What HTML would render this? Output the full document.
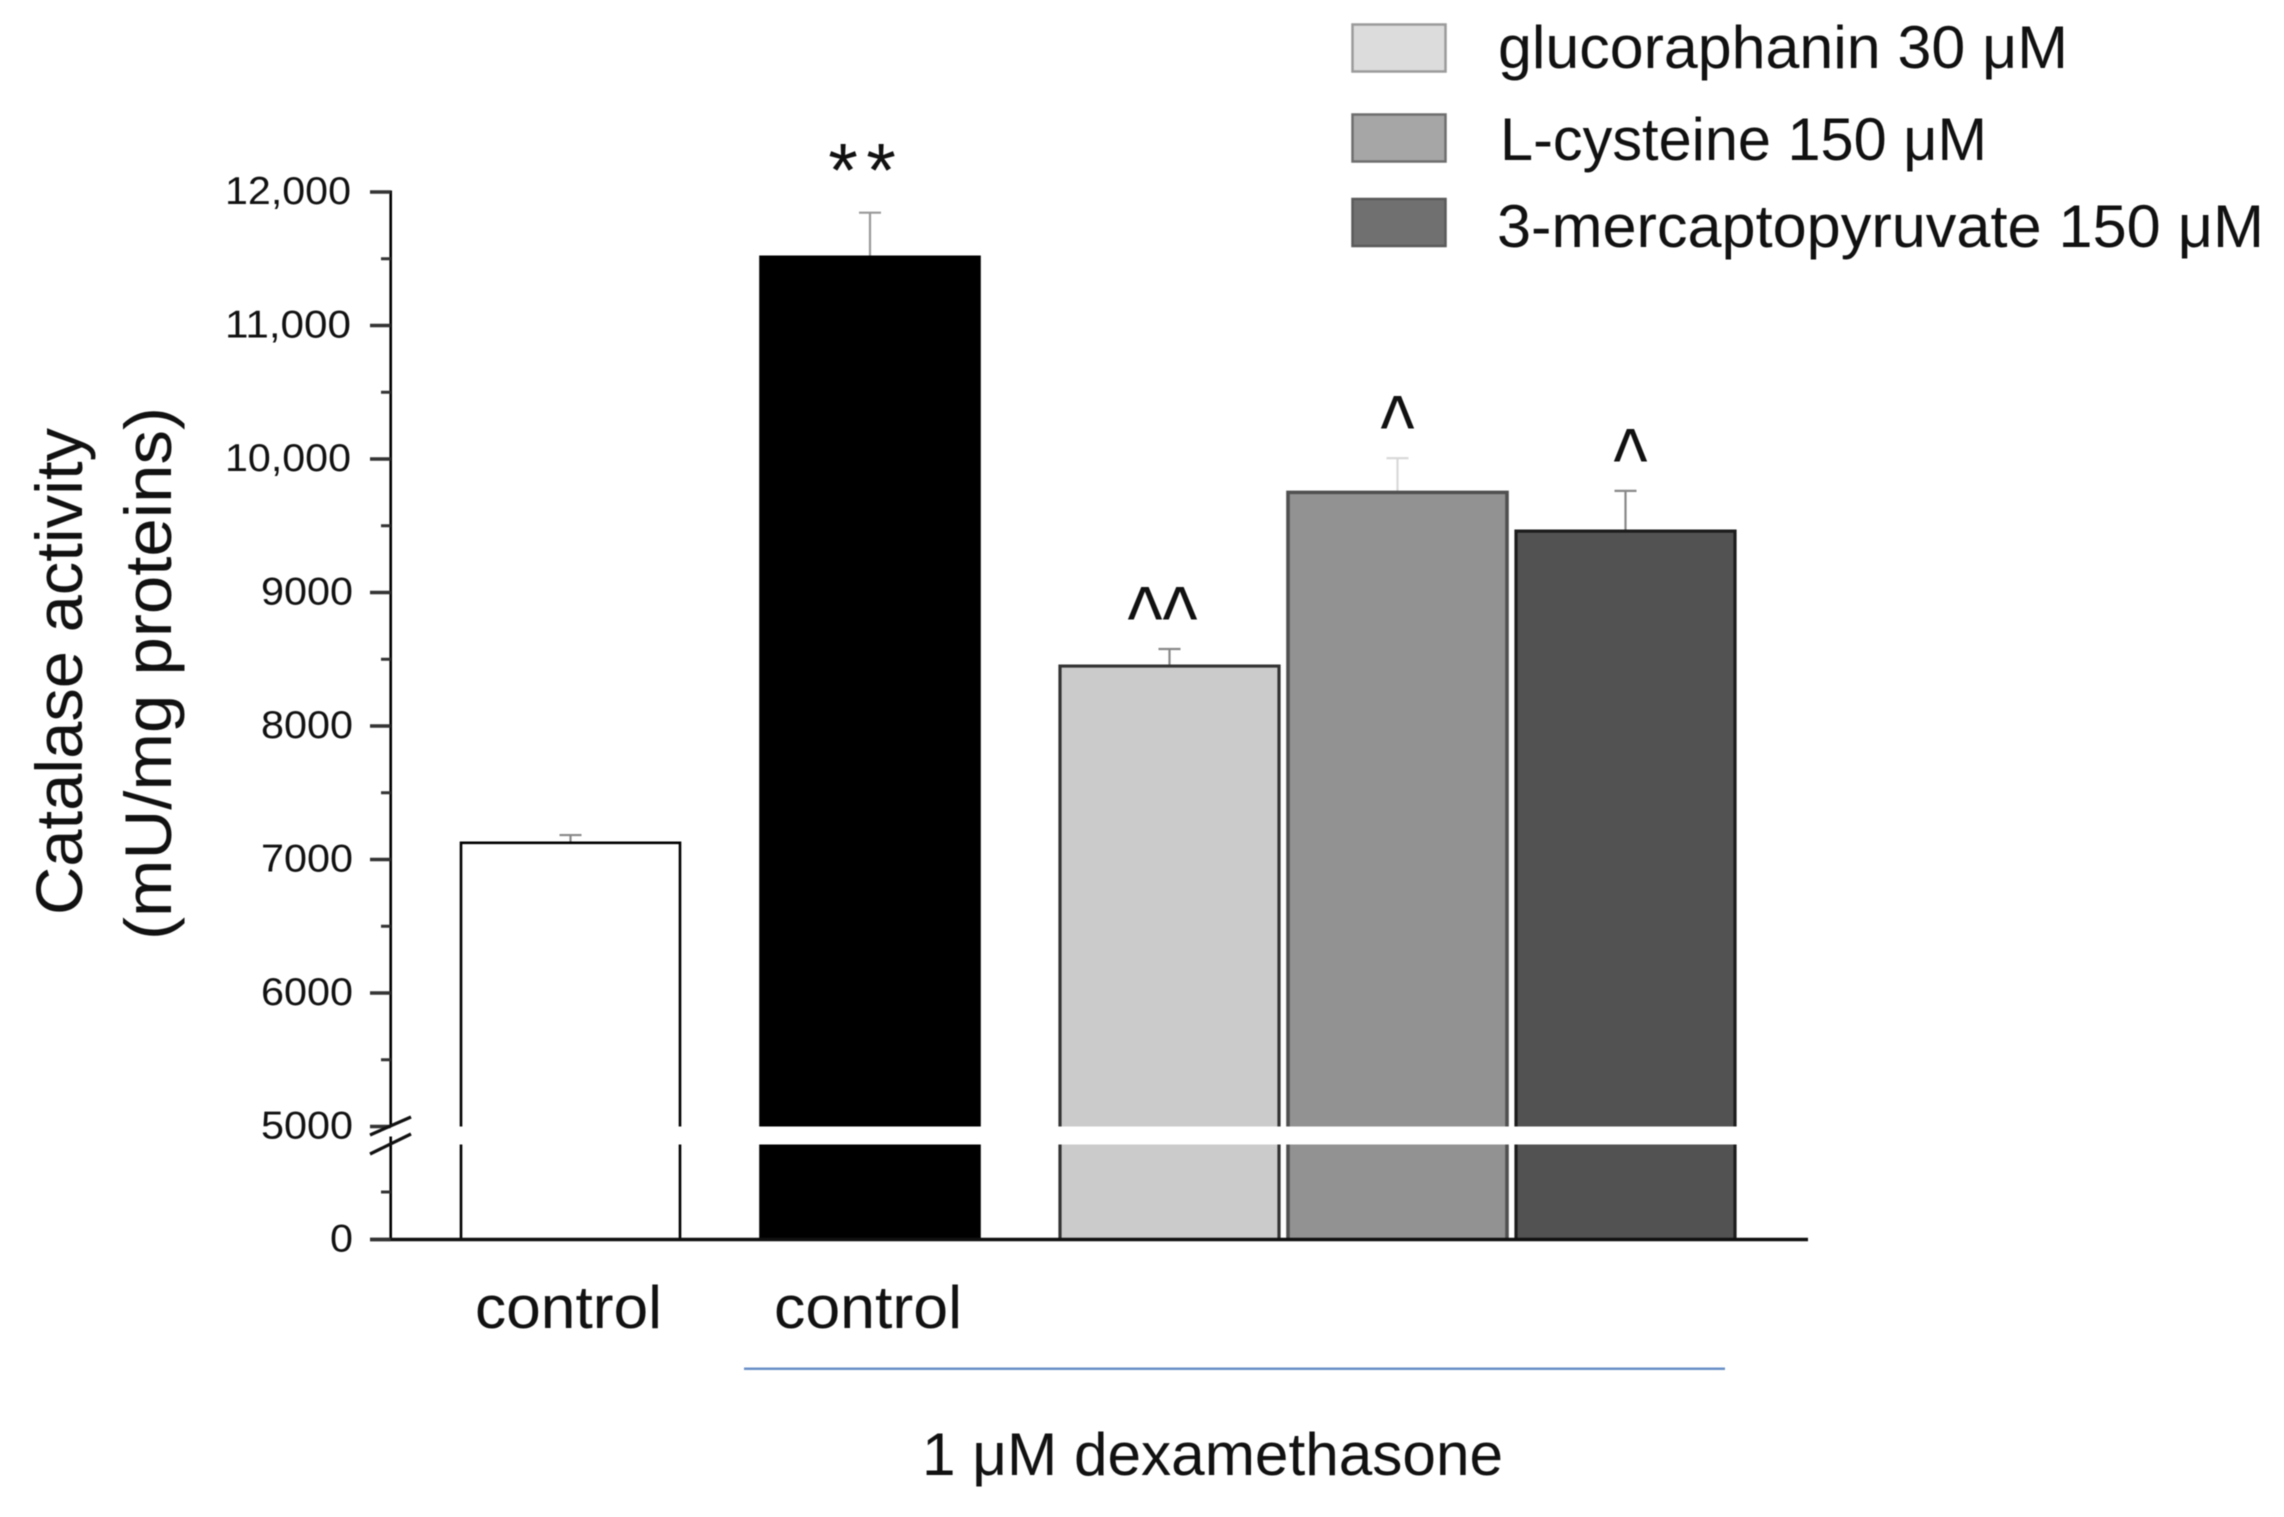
<!DOCTYPE html>
<html lang="en">
<head>
<meta charset="utf-8">
<title>Catalase activity</title>
<style>
html,body{margin:0;padding:0;background:#fff;width:2284px;height:1517px;overflow:hidden}
svg{display:block;filter:blur(.6px)}
text{font-family:"Liberation Sans",sans-serif;fill:#111}
</style>
</head>
<body>
<svg id="chart" xmlns="http://www.w3.org/2000/svg" width="2284" height="1517" viewBox="0 0 2284 1517">
  <g id="bars"></g>
  <g id="axis"></g>
  <g id="sig"></g>

  <text transform="translate(82,915) rotate(-90)" font-size="66" textLength="487" lengthAdjust="spacingAndGlyphs">Catalase activity</text>
  <text transform="translate(171,940) rotate(-90)" font-size="66" textLength="533" lengthAdjust="spacingAndGlyphs">(mU/mg proteins)</text>

  <text x="475" y="1328" font-size="60" textLength="187" lengthAdjust="spacingAndGlyphs">control</text>
  <text x="774" y="1328" font-size="60" textLength="188" lengthAdjust="spacingAndGlyphs">control</text>
  <line x1="744" y1="1368.7" x2="1725" y2="1368.7" stroke="#6a90c8" stroke-width="2.5"/>
  <text x="922" y="1475" font-size="60" textLength="581" lengthAdjust="spacingAndGlyphs">1 μM dexamethasone</text>

  <g>
    <g>
      <rect x="1352.5" y="24.5" width="93" height="47" fill="#dcdcdc" stroke="#9a9a9a" stroke-width="2.5"/>
      <text x="1498" y="68" font-size="60" textLength="570" lengthAdjust="spacingAndGlyphs">glucoraphanin 30 μM</text>
    </g>
    <g>
      <rect x="1352.5" y="114.5" width="93" height="47" fill="#a6a6a6" stroke="#6e6e6e" stroke-width="2.5"/>
      <text x="1500" y="160" font-size="60" textLength="487" lengthAdjust="spacingAndGlyphs">L-cysteine 150 μM</text>
    </g>
    <g>
      <rect x="1352.5" y="199" width="93" height="47" fill="#707070" stroke="#5a5a5a" stroke-width="2.5"/>
      <text x="1497" y="247" font-size="60" textLength="767" lengthAdjust="spacingAndGlyphs">3-mercaptopyruvate 150 μM</text>
    </g>
  </g>
</svg>

<script>
const categories = ["control", "dexamethasone control", "glucoraphanin 30 uM", "L-cysteine 150 uM", "3-mercaptopyruvate 150 uM"];
const meanValues = [7125, 11515, 8449, 9750, 9460];
const errorValues = [58, 330, 128, 256, 301];
const significanceLabels = ["", "**", "^^", "^", "^"];
const majorTickValues = [0, 5000, 6000, 7000, 8000, 9000, 10000, 11000, 12000];
const majorTickLabels = ["0", "5000", "6000", "7000", "8000", "9000", "10,000", "11,000", "12,000"];
const minorTickValues = [2500, 5500, 6500, 7500, 8500, 9500, 10500, 11500];

const SVG_NS = "http://www.w3.org/2000/svg";
const BREAK_VALUE = 5000;
const BASE_Y = 1239.5;
const LOWER_TOP_Y = 1144.5;
const UPPER_BOTTOM_Y = 1126.5;
const TOP_Y = 192;
const TOP_VALUE = 12000;
const AXIS_X = 390.7;
const BAR_WIDTH = 219;

function yScale(v) {
  if (v <= BREAK_VALUE) return BASE_Y - (v / BREAK_VALUE) * (BASE_Y - LOWER_TOP_Y);
  return UPPER_BOTTOM_Y - ((v - BREAK_VALUE) / (TOP_VALUE - BREAK_VALUE)) * (UPPER_BOTTOM_Y - TOP_Y);
}
function barLeft(i) {
  return i <= 2 ? 461 + 299.5 * i : 1060 + 228 * (i - 2);
}
function barStyle(i) {
  const fills = ["#ffffff", "#000000", "#cbcbcb", "#929292", "#525252"];
  const strokes = ["#000000", "#000000", "#333333", "#505050", "#1c1c1c"];
  const errs = ["#888888", "#999999", "#888888", "#d8d8d8", "#888888"];
  const widths = [2.6, 2.6, 3.2, 3.6, 3.2];
  return { fill: fills[i], stroke: strokes[i], err: errs[i], width: widths[i] };
}
function markOffset(i) {
  const dx = [0, -8, -7, 0, 5];
  return dx[i];
}
function make(tag, attrs, parent) {
  const el = document.createElementNS(SVG_NS, tag);
  for (const k in attrs) el.setAttribute(k, attrs[k]);
  parent.appendChild(el);
  return el;
}

const barsG = document.getElementById("bars");
const axisG = document.getElementById("axis");
const sigG = document.getElementById("sig");

categories.forEach(function (cat, i) {
  const s = barStyle(i);
  const x = barLeft(i);
  const cx = x + BAR_WIDTH / 2;
  const top = yScale(meanValues[i]);
  const errTop = yScale(meanValues[i] + errorValues[i]);

  const errStem = make("line", { x1: cx, x2: cx, y1: errTop, y2: top, stroke: s.err, "stroke-width": 2.2 }, barsG);
  
  
  const errCap = make("line", { x1: cx - 11, x2: cx + 11, y1: errTop, y2: errTop, stroke: s.err, "stroke-width": 2.2 }, barsG);
  
  

  const upper = make("rect", { x: x, y: top, width: BAR_WIDTH, height: UPPER_BOTTOM_Y - top, fill: s.fill }, barsG);
  
  
  const lower = make("rect", { x: x, y: LOWER_TOP_Y, width: BAR_WIDTH, height: BASE_Y - LOWER_TOP_Y, fill: s.fill }, barsG);
  
  

  const upperPath = make("path", {
    d: "M" + x + " " + UPPER_BOTTOM_Y + "V" + top + "H" + (x + BAR_WIDTH) + "V" + UPPER_BOTTOM_Y,
    fill: "none", stroke: s.stroke, "stroke-width": s.width
  }, barsG);
  
  
  const lowerPath = make("path", {
    d: "M" + x + " " + LOWER_TOP_Y + "V" + BASE_Y + "M" + (x + BAR_WIDTH) + " " + LOWER_TOP_Y + "V" + BASE_Y,
    fill: "none", stroke: s.stroke, "stroke-width": s.width
  }, barsG);
  
  

  const label = significanceLabels[i];
  if (label) {
    const isStar = label.charAt(0) === "*";
    const len = isStar ? 67.6 : (label.length === 2 ? 70 : 34);
    const t = make("text", {
      x: cx + markOffset(i) - len / 2,
      y: errTop - (isStar ? 16 : 0),
      "font-size": isStar ? 76 : 90,
      textLength: len,
      lengthAdjust: isStar ? "spacing" : "spacingAndGlyphs",
      fill: "#000"
    }, sigG);
    
    
    t.textContent = label;
  }
});

const upperAxis = make("line", { x1: AXIS_X, x2: AXIS_X, y1: TOP_Y - 1.5, y2: UPPER_BOTTOM_Y, stroke: "#000", "stroke-width": 2.6 }, axisG);


const lowerAxis = make("line", { x1: AXIS_X, x2: AXIS_X, y1: LOWER_TOP_Y - 8, y2: BASE_Y, stroke: "#000", "stroke-width": 2.6 }, axisG);


const xAxis = make("line", { x1: 370, x2: 1808, y1: BASE_Y, y2: BASE_Y, stroke: "#111", "stroke-width": 3.6 }, axisG);



majorTickValues.forEach(function (v, i) {
  const y = v === BREAK_VALUE ? UPPER_BOTTOM_Y : yScale(v);
  const tick = make("line", { x1: 370, x2: AXIS_X, y1: y, y2: y, stroke: "#333", "stroke-width": 3.4 }, axisG);
  
  
  const lbl = majorTickLabels[i];
  const len = lbl.length === 6 ? 126 : (lbl.length === 4 ? 92 : 23);
  const right = lbl.length === 6 ? 351 : 353;
  const t = make("text", { x: right - len, y: y + 12, "font-size": 39, textLength: len, lengthAdjust: "spacingAndGlyphs", fill: "#222" }, axisG);
  
  
  t.textContent = lbl;
});
minorTickValues.forEach(function (v) {
  const y = yScale(v);
  const tick = make("line", { x1: 381, x2: AXIS_X, y1: y, y2: y, stroke: "#333", "stroke-width": 3 }, axisG);
  
  
});

const slashUpper = make("line", { x1: 370, y1: 1135, x2: 411, y2: 1117, stroke: "#111", "stroke-width": 3.2 }, axisG);


const slashLower = make("line", { x1: 370, y1: 1154, x2: 411, y2: 1134, stroke: "#111", "stroke-width": 3.2 }, axisG);


</script>
</body>
</html>
